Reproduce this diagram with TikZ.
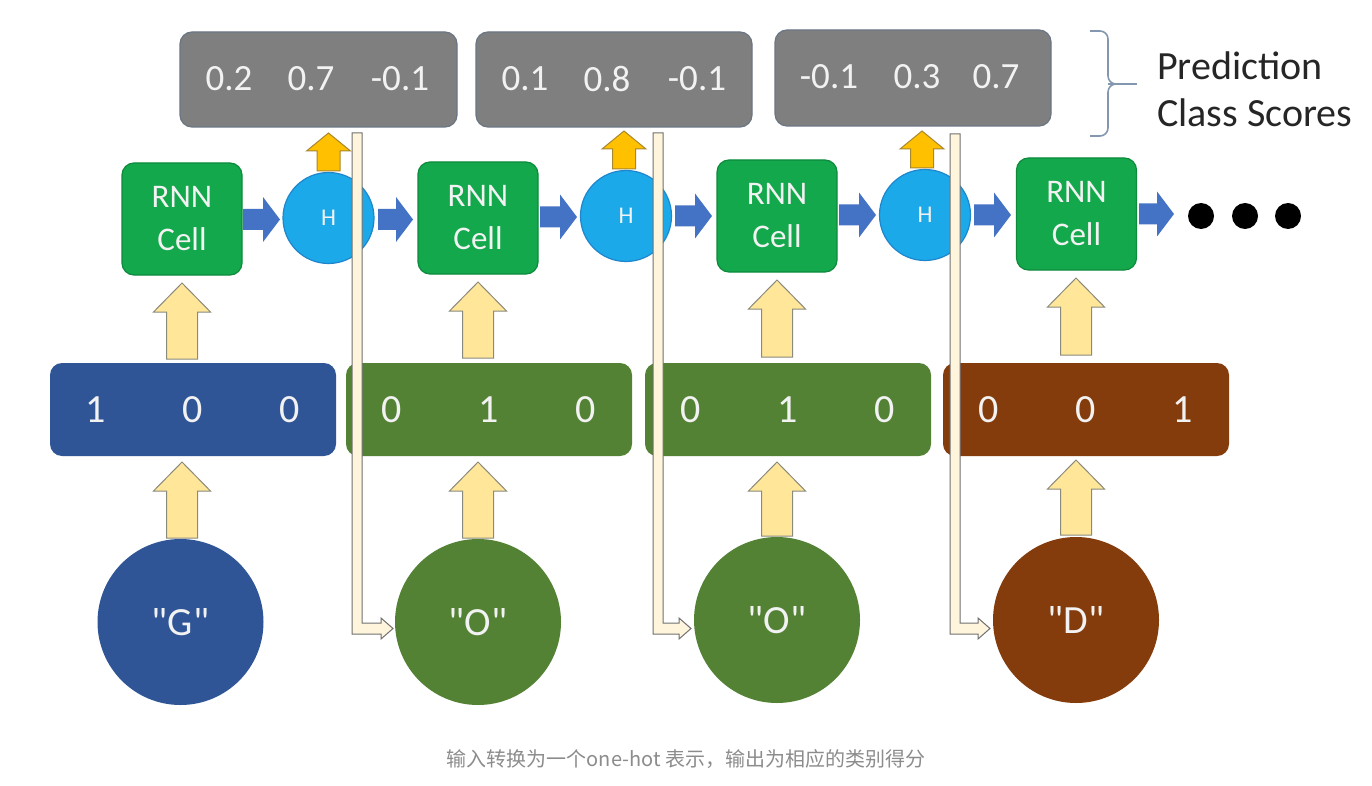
\documentclass[tikz,border=0pt]{standalone}
\usepackage{fontspec}
\setmainfont{Carlito}
\newfontfamily\plainq{Carlito}[Ligatures=TeXOff]
\newfontfamily\cjk{Noto Sans CJK SC}
\definecolor{scoregray}{HTML}{7F7F7F}
\definecolor{scoreedge}{HTML}{6A7684}
\definecolor{cellgreen}{HTML}{12A84B}
\definecolor{celledge}{HTML}{0E8A3C}
\definecolor{hblue}{HTML}{1BA9EA}
\definecolor{hedge}{HTML}{1E86CC}
\definecolor{arrblue}{HTML}{4472C4}
\definecolor{arrorange}{HTML}{FFC000}
\definecolor{orangeedge}{HTML}{A8872E}
\definecolor{arryellow}{HTML}{FFE699}
\definecolor{yellowedge}{HTML}{8A8A7C}
\definecolor{ohblue}{HTML}{2F5597}
\definecolor{ohgreen}{HTML}{548235}
\definecolor{ohbrown}{HTML}{843C0C}
\definecolor{creamfill}{HTML}{FFF5DC}
\definecolor{creamedge}{HTML}{707070}
\definecolor{bracketcol}{HTML}{8497B0}
\definecolor{captioncol}{HTML}{8C8C8C}
\definecolor{lighttext}{HTML}{F2F2F2}
\tikzset{
  scorebox/.style={draw=scoreedge, line width=1.2pt, fill=scoregray, rounded corners=12pt, inner sep=0pt},
  scoretext/.style={text=lighttext, font=\fontsize{37}{44}\selectfont, inner sep=0pt},
  cellbox/.style={draw=celledge, line width=1.2pt, fill=cellgreen, rounded corners=12pt, minimum width=120pt, minimum height=112pt, inner sep=0pt, align=center, text=lighttext, font=\fontsize{33}{43}\selectfont},
  hcirc/.style={circle, draw=hedge, line width=1.2pt, fill=hblue, minimum size=91pt, inner sep=0pt, text=lighttext, font=\fontsize{24}{28}\selectfont},
  ohbox/.style={rounded corners=12pt, minimum width=286pt, minimum height=93pt, inner sep=0pt},
  ohtext/.style={text=lighttext, font=\fontsize{40}{48}\selectfont, inner sep=0pt},
  letter/.style={circle, minimum size=166pt, inner sep=0pt, text=lighttext, font=\plainq\fontsize{40}{48}\selectfont},
  bluearr/.style={fill=arrblue, draw=none},
  orangearr/.style={fill=arrorange, draw=orangeedge, line width=1pt},
  yellowarr/.style={fill=arryellow, draw=yellowedge, line width=1pt},
  feedarr/.style={fill=creamfill, draw=creamedge, line width=1pt},
  dot/.style={circle, fill=black, minimum size=26pt, inner sep=0pt}
}
% horizontal block arrow: x1, x2, yc
\newcommand\harr[3]{\fill[bluearr] (#1,#3-10.5) -- (#2-17,#3-10.5) -- (#2-17,#3-22.5) -- (#2,#3) -- (#2-17,#3+22.5) -- (#2-17,#3+10.5) -- (#1,#3+10.5) -- cycle;}
% vertical up block arrow: xc, ytip, ybot, shafthalf, headhalf, headlen, style
\newcommand\varr[7]{\draw[#7] (#1-#4,#3) -- (#1-#4,#2+#6) -- (#1-#5,#2+#6) -- (#1,#2) -- (#1+#5,#2+#6) -- (#1+#4,#2+#6) -- (#1+#4,#3) -- cycle;}
% L-shaped feedback arrow: xleft, ytop, xtip, ymid
\newcommand\larr[4]{\draw[feedarr] (#1,#2) -- (#1+10,#2) -- (#1+10,#4-5.5) -- (#3-12,#4-5.5) -- (#3-12,#4-10.5) -- (#3,#4) -- (#3-12,#4+10.5) -- (#3-12,#4+5.5) -- (#1,#4+5.5) -- cycle;}
\begin{document}
\begin{tikzpicture}[x=1pt,y=-1pt]
\useasboundingbox[fill=white] (0,0) rectangle (1372,786);

% ---- prediction score boxes
\node[scorebox, minimum width=277pt, minimum height=95pt] (s1) at (318.5,79.5) {};
\node[scorebox, minimum width=276pt, minimum height=95pt] (s2) at (614,79.5) {};
\node[scorebox, minimum width=276pt, minimum height=96pt] (s3) at (913,78) {};
\node[scoretext] (s1a) at (229,79) {0.2};
\node[scoretext] (s1b) at (311,79) {0.7};
\node[scoretext] (s1c) at (400,79) {-0.1};
\node[scoretext] (s2a) at (525,79) {0.1};
\node[scoretext] (s2b) at (607,79) {0.8};
\node[scoretext] (s2c) at (697,79) {-0.1};
\node[scoretext] (s3a) at (829,77) {-0.1};
\node[scoretext] (s3b) at (917,77) {0.3};
\node[scoretext] (s3c) at (996,77) {0.7};

% ---- bracket and label
\draw[bracketcol, line width=1.6pt, rounded corners=8pt] (1090,31) -- (1108,31) -- (1108,84) -- (1116,84);
\draw[bracketcol, line width=1.6pt, rounded corners=8pt] (1090,136) -- (1108,136) -- (1108,84) -- (1116,84);
\draw[bracketcol, line width=1.6pt] (1108,84) -- (1137,84);
\node[anchor=west, inner sep=0pt, align=left, font=\fontsize{40}{47}\selectfont, text=black!85] (lab) at (1157,89) {Prediction\\Class Scores};

% ---- RNN cells
\node[cellbox] (c1) at (182,219) {RNN\\Cell};
\node[cellbox] (c2) at (478,218) {RNN\\Cell};
\node[cellbox] (c3) at (777,216) {RNN\\Cell};
\node[cellbox] (c4) at (1076.5,214) {RNN\\Cell};

% ---- hidden states
\node[hcirc] (h1) at (328.5,218) {H};
\node[hcirc] (h2) at (626,216) {H};
\node[hcirc] (h3) at (925,215) {H};

% ---- blue arrows
\harr{243}{280}{219.5}
\harr{378}{413}{219.5}
\harr{540}{577}{217}
\harr{675}{712}{216}
\harr{839}{876}{215}
\harr{974}{1011}{215}
\harr{1139}{1174}{214}

% ---- ellipsis
\node[dot] (d1) at (1201,216) {};
\node[dot] (d2) at (1245,216) {};
\node[dot] (d3) at (1288,216) {};

% ---- orange arrows
\varr{328.5}{133}{171}{11.5}{22}{18}{orangearr}
\varr{624}{131}{169}{11.5}{22}{18}{orangearr}
\varr{922}{131}{168}{11.5}{22}{18}{orangearr}

% ---- one-hot boxes
\node[ohbox, fill=ohblue] (o1) at (193,409.5) {};
\node[ohbox, fill=ohgreen] (o2) at (489,409.5) {};
\node[ohbox, fill=ohgreen] (o3) at (788,409.5) {};
\node[ohbox, fill=ohbrown] (o4) at (1086,409.5) {};
\foreach \nm/\cx/\a/\b/\c in {o1/193/1/0/0, o2/489/0/1/0, o3/788/0/1/0, o4/1086/0/0/1}{
  \node[ohtext] (\nm a) at (\cx-97,410) {\a};
  \node[ohtext] (\nm b) at (\cx,410) {\b};
  \node[ohtext] (\nm c) at (\cx+97,410) {\c};
}

% ---- yellow arrows
\varr{182}{283}{359}{15.5}{28.5}{29}{yellowarr}
\varr{478}{282}{358}{15.5}{28.5}{29}{yellowarr}
\varr{777}{280}{357}{15.5}{28.5}{29}{yellowarr}
\varr{1076}{278}{355}{15.5}{28.5}{29}{yellowarr}
\varr{182}{462}{538}{15.5}{28.5}{29}{yellowarr}
\varr{478}{462}{538}{15.5}{28.5}{29}{yellowarr}
\varr{777}{462}{536}{15.5}{28.5}{29}{yellowarr}
\varr{1076}{460}{535}{15.5}{28.5}{29}{yellowarr}

% ---- input letters
\node[letter, fill=ohblue] (g) at (180.5,622) {"G"};
\node[letter, fill=ohgreen] (oo1) at (478,622) {"O"};
\node[letter, fill=ohgreen] (oo2) at (777,620) {"O"};
\node[letter, fill=ohbrown] (dd) at (1076,620) {"D"};

% ---- feedback arrows (prediction -> next input)
\larr{352}{133}{393}{628.5}
\larr{653}{133}{691}{628.5}
\larr{950}{134}{990}{628.5}

% ---- caption
\node[text=captioncol, font=\cjk\fontsize{20}{24}\selectfont, inner sep=0pt] (cap) at (686,759) {输入转换为一个one-hot 表示，输出为相应的类别得分};
\end{tikzpicture}
\end{document}
